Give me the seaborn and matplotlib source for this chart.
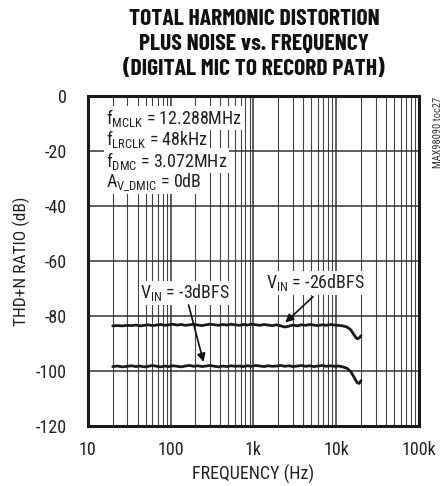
import numpy as np
import pandas as pd
import matplotlib
matplotlib.use("Agg")
import matplotlib.pyplot as plt
import seaborn as sns

# ---------------------------------------------------------------- data
freq_hz = [20, 23, 26, 30, 34, 38, 43, 48, 54, 60, 68, 76, 85, 95, 107, 120,
           135, 150, 170, 190, 215, 240, 270, 300, 340, 380, 430, 480, 540,
           600, 680, 760, 850, 950, 1070, 1200, 1350, 1500, 1700, 1900, 2150,
           2400, 2700, 3000, 3400, 3800, 4300, 4800, 5400, 6000, 6800, 7600,
           8500, 9500, 10700, 12000, 13500, 15000, 16000, 17000, 18000, 19000,
           20000]

thdn_26dbfs = [-83.6, -83.5, -83.6, -83.4, -83.5, -83.3, -83.6, -83.4, -83.2,
               -83.5, -83.3, -83.1, -83.4, -83.2, -83.0, -83.3, -83.1, -83.4,
               -83.2, -83.0, -83.3, -83.5, -83.2, -83.0, -83.2, -83.4, -83.1,
               -83.3, -83.0, -83.2, -83.4, -83.1, -83.3, -83.0, -83.2, -83.4,
               -83.1, -83.3, -83.5, -83.2, -83.6, -84.0, -83.7, -83.3, -83.6,
               -83.2, -83.4, -83.1, -83.3, -83.5, -83.2, -83.4, -83.1, -83.3,
               -83.4, -83.6, -84.0, -85.0, -86.3, -87.5, -88.3, -88.0, -87.2]

thdn_3dbfs = [-98.4, -98.2, -98.5, -98.3, -98.1, -98.4, -98.2, -98.5, -98.3,
              -98.0, -98.3, -98.5, -98.2, -98.4, -98.1, -98.3, -98.5, -98.2,
              -98.0, -98.3, -98.1, -98.4, -98.2, -98.0, -98.3, -98.5, -98.2,
              -98.4, -98.1, -98.3, -98.2, -98.4, -98.1, -98.3, -98.0, -98.2,
              -98.4, -98.1, -98.3, -98.2, -98.0, -98.3, -98.1, -98.4, -98.2,
              -98.0, -98.3, -98.1, -98.4, -98.2, -98.0, -98.3, -98.1, -98.3,
              -98.2, -98.5, -99.0, -100.2, -101.6, -103.0, -104.3, -104.5,
              -103.5]

df = pd.DataFrame({"freq": freq_hz * 2,
                   "thdn": thdn_26dbfs + thdn_3dbfs,
                   "level": ["-26dBFS"] * len(freq_hz) + ["-3dBFS"] * len(freq_hz)})

# ---------------------------------------------------------------- style
sns.set_style("white")
plt.rcParams["font.family"] = ["Roboto Condensed", "Liberation Sans", "DejaVu Sans"]
plt.rcParams["mathtext.fontset"] = "custom"
plt.rcParams["mathtext.rm"] = "Roboto Condensed"
plt.rcParams["mathtext.it"] = "Roboto Condensed"

fig = plt.figure(figsize=(4.48, 4.86), dpi=100)
ax = fig.add_axes([0.196, 0.1235, 0.739, 0.679])

sns.lineplot(data=df, x="freq", y="thdn", units="level", estimator=None,
             color="#1a1a1a", lw=2.0, ax=ax, legend=False)

ax.set_xscale("log")
ax.set_xlim(10, 100000)
ax.set_ylim(-120, 0)
ax.set_yticks(np.arange(-120, 1, 20))
ax.set_yticklabels(["-120", "-100", "-80", "-60", "-40", "-20", "0"])
ax.set_xticks([10, 100, 1000, 10000, 100000])
ax.set_xticklabels(["10", "100", "1k", "10k", "100k"])
ax.xaxis.set_minor_locator(matplotlib.ticker.LogLocator(base=10, subs=np.arange(2, 10)))
ax.xaxis.set_minor_formatter(matplotlib.ticker.NullFormatter())
ax.tick_params(axis="both", which="both", length=0, labelsize=13, colors="#222222")
ax.tick_params(axis="x", pad=11)
ax.tick_params(axis="y", pad=15)

ax.grid(True, which="major", axis="both", color="#333333", lw=1.1)
ax.grid(True, which="minor", axis="x", color="#444444", lw=0.8)
for s in ax.spines.values():
    s.set_linewidth(2.2)
    s.set_color("#1a1a1a")

ax.set_xlabel("FREQUENCY (Hz)", fontsize=13, labelpad=4, color="#222222")
ax.set_ylabel("THD+N RATIO (dB)", fontsize=12.5, labelpad=4, color="#222222")

fig.text(0.567, 0.982, "TOTAL HARMONIC DISTORTION\nPLUS NOISE vs. FREQUENCY\n(DIGITAL MIC TO RECORD PATH)",
         ha="center", va="top", fontsize=17, fontweight="bold", linespacing=1.32,
         color="#111111", family=["Barlow Condensed", "Roboto Condensed", "DejaVu Sans"])

fig.text(0.977, 0.80, "MAX98090 toc27", rotation=90, ha="center", va="top",
         fontsize=7.5, color="#333333")

box = dict(facecolor="white", edgecolor="none", pad=1.0)
cond_lines = [(-8.0, r"f$_{\mathrm{MCLK}}$ = 12.288MHz"),
              (-15.8, r"f$_{\mathrm{LRCLK}}$ = 48kHz"),
              (-23.6, r"f$_{\mathrm{DMC}}$ = 3.072MHz"),
              (-31.3, r"A$_{\mathrm{V\_DMIC}}$ = 0dB")]
for yv, txt in cond_lines:
    ax.text(16.5, yv, txt, ha="left", va="center", fontsize=13, bbox=box,
            color="#222222")

ax.text(151, -71.6, r"V$_{\mathrm{IN}}$ = -3dBFS", ha="center", va="center",
        fontsize=13, bbox=box, color="#222222")
ax.text(5590, -68.0, r"V$_{\mathrm{IN}}$ = -26dBFS", ha="center", va="center",
        fontsize=13, bbox=box, color="#222222")

arrow = dict(arrowstyle="-|>", color="#111111", lw=1.2, mutation_scale=12,
             shrinkA=0, shrinkB=0)
ax.annotate("", xy=(250, -96.7), xytext=(165, -76.0), arrowprops=arrow)
ax.annotate("", xy=(2430, -82.4), xytext=(5260, -73.0), arrowprops=arrow)

fig.savefig("out.png", dpi=100)
plt.close()
